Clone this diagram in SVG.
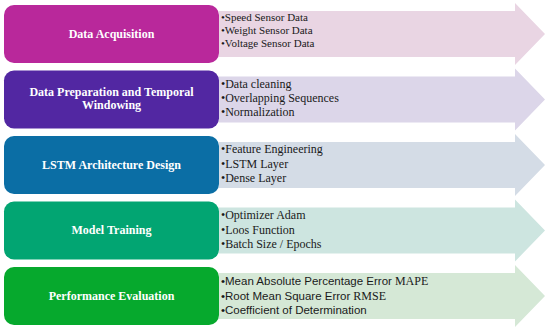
<svg xmlns="http://www.w3.org/2000/svg" width="550" height="331" viewBox="0 0 550 331">
<style>
.box{stroke:none}
.lbl{font-family:"Liberation Serif","Times New Roman",serif;font-weight:bold;font-size:12px;fill:#ffffff;text-anchor:middle}
.it{font-family:"Liberation Serif","Times New Roman",serif;font-size:12px;fill:#1a1a1a}
.its{font-family:"Liberation Sans",Arial,sans-serif;font-size:11.5px;fill:#1a1a1a}
</style>
<defs>
<path id="arr" d="M0,-23 H296 V-31 L326,0 L296,31 V23 H0 Z"/>
</defs>
<rect width="550" height="331" fill="#ffffff"/>
<g id="row1" transform="translate(0,34)">
<use href="#arr" x="219" fill="#E9D5E3"/>
<rect class="box" x="4" y="-29" width="215" height="58" rx="10" fill="#B9289B"/>
<text class="lbl" x="111.5" y="4">Data Acquisition</text>
<text class="it" style="font-size:11px" x="221" y="-13">•Speed Sensor Data</text>
<text class="it" style="font-size:11px" x="221" y="0">•Weight Sensor Data</text>
<text class="it" style="font-size:11px" x="221" y="13">•Voltage Sensor Data</text>
</g>
<g id="row2" transform="translate(0,99.5)">
<use href="#arr" x="219" fill="#DCD6E9"/>
<rect class="box" x="4" y="-29" width="215" height="58" rx="10" fill="#5227A2"/>
<text class="lbl" x="111.5" y="-4">Data Preparation and Temporal</text>
<text class="lbl" x="111.5" y="9.5">Windowing</text>
<text class="it" x="221" y="-12">•Data cleaning</text>
<text class="it" x="221" y="2">•Overlapping Sequences</text>
<text class="it" x="221" y="16">•Normalization</text>
</g>
<g id="row3" transform="translate(0,165)">
<use href="#arr" x="219" fill="#D4DCE6"/>
<rect class="box" x="4" y="-29" width="215" height="58" rx="10" fill="#0B6EA5"/>
<text class="lbl" x="111.5" y="4">LSTM Architecture Design</text>
<text class="it" x="221" y="-12">•Feature Engineering</text>
<text class="it" x="221" y="2.5">•LSTM Layer</text>
<text class="it" x="221" y="17">•Dense Layer</text>
</g>
<g id="row4" transform="translate(0,230.5)">
<use href="#arr" x="219" fill="#CDE5E0"/>
<rect class="box" x="4" y="-29" width="215" height="58" rx="10" fill="#02A572"/>
<text class="lbl" x="111.5" y="3.5">Model Training</text>
<text class="it" x="221" y="-11.5">•Optimizer Adam</text>
<text class="it" x="221" y="3">•Loos Function</text>
<text class="it" x="221" y="17">•Batch Size / Epochs</text>
</g>
<g id="row5" transform="translate(0,296)">
<use href="#arr" x="219" fill="#D5E8D6"/>
<rect class="box" x="4" y="-29" width="215" height="58" rx="10" fill="#06A92D"/>
<text class="lbl" x="111.5" y="3.5">Performance Evaluation</text>
<text class="its" x="221" y="-11">•Mean Absolute Percentage Error<tspan class="it"> MAPE</tspan></text>
<text class="its" x="221" y="3.5">•Root Mean Square Error<tspan class="it"> RMSE</tspan></text>
<text class="its" x="221" y="18">•Coefficient of Determination</text>
</g>
<g id="connectors"/>
</svg>
